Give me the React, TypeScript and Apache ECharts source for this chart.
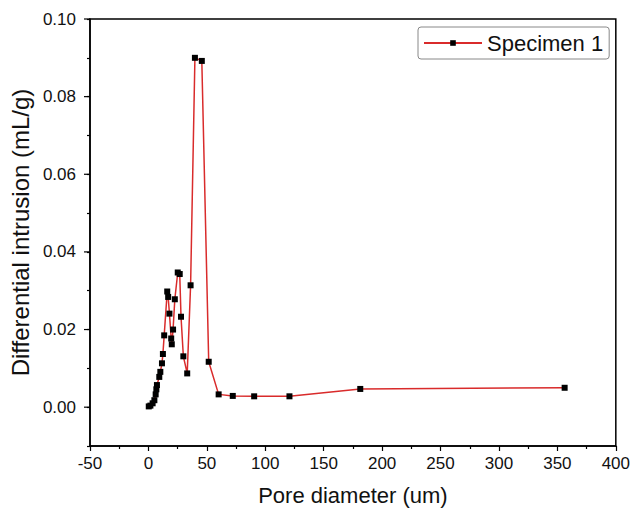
import React, { useEffect, useRef } from "react";
import * as echarts from "echarts";

const poreDiameter = [0.3, 1.7, 3.6, 5.1, 6.2, 6.8, 7.3, 9.3, 10.2, 11.6, 12.4, 13.5, 16.1, 16.9, 18.0, 19.5, 20.0, 21.1, 22.6, 25.1, 26.8, 27.9, 29.9, 33.2, 36.1, 39.8, 45.7, 51.6, 60.1, 72.2, 90.5, 120.7, 181.3, 356.2];
const intrusion = [0.0002, 0.0004, 0.001, 0.0018, 0.0033, 0.0046, 0.0057, 0.0078, 0.0091, 0.0113, 0.0137, 0.0185, 0.0298, 0.0284, 0.0241, 0.0177, 0.0162, 0.02, 0.0278, 0.0347, 0.0343, 0.0233, 0.0131, 0.0087, 0.0314, 0.09, 0.0892, 0.0117, 0.0033, 0.0029, 0.0028, 0.0028, 0.0047, 0.005];
const yMajorTicks = [0, 0.02, 0.04, 0.06, 0.08, 0.1];
const seriesName = "Specimen 1";

export default function App() {
  const ref = useRef<HTMLDivElement>(null);
  useEffect(() => {
    if (!ref.current) return;
    const chart = echarts.init(ref.current, null, { renderer: "svg" });
    const font = "Liberation Sans, Arial, sans-serif";
    chart.setOption({
      animation: false,
      backgroundColor: "#ffffff",
      grid: {
        left: 89,
        right: 12,
        top: 19,
        bottom: 70,
        show: true,
        borderColor: "#000",
        borderWidth: 1.5,
        backgroundColor: "transparent",
      },
      legend: {
        data: [seriesName],
        left: 418,
        top: 27,
        itemWidth: 58,
        itemHeight: 7,
        itemGap: 5,
        padding: [5, 6, 5, 5],
        borderColor: "#888",
        borderWidth: 1,
        borderRadius: 3,
        textStyle: { fontFamily: font, fontSize: 22, color: "#111" },
      },
      xAxis: {
        type: "value",
        min: -50,
        max: 400,
        interval: 50,
        name: "Pore diameter (um)",
        nameLocation: "middle",
        nameGap: 38,
        nameTextStyle: { fontFamily: font, fontSize: 22, color: "#111" },
        axisLine: { show: true, onZero: false, lineStyle: { color: "#000", width: 1.5 } },
        axisTick: { show: true, inside: false, length: 5, lineStyle: { color: "#000", width: 1.2 } },
        minorTick: { show: true, splitNumber: 2, length: 3, lineStyle: { color: "#000", width: 1.2 } },
        axisLabel: { fontFamily: font, fontSize: 17, color: "#111", margin: 9 },
        splitLine: { show: false },
      },
      yAxis: {
        type: "value",
        min: -0.01,
        max: 0.1,
        interval: 0.01,
        name: "Differential intrusion (mL/g)",
        nameLocation: "middle",
        nameGap: 56,
        nameTextStyle: { fontFamily: font, fontSize: 24, color: "#111" },
        axisLine: { show: true, onZero: false, lineStyle: { color: "#000", width: 1.5 } },
        axisTick: { show: true, inside: false, length: 3, lineStyle: { color: "#000", width: 1.2 } },
        axisLabel: {
          fontFamily: font,
          fontSize: 17,
          color: "#111",
          margin: 14,
          formatter: (v: number) => (Math.round(v * 100) % 2 === 0 ? v.toFixed(2) : ""),
        },
        splitLine: { show: false },
      },
      series: [
        {
          name: seriesName,
          type: "line",
          data: poreDiameter.map((x, i) => [x, intrusion[i]]),
          symbol: "rect",
          symbolSize: 6,
          itemStyle: { color: "#000" },
          lineStyle: { color: "#d92b2b", width: 1.5 },
        },
      ],
    });
    const axisX = chart.convertToPixel({ xAxisIndex: 0 }, -50) as number;
    chart.setOption({
      graphic: yMajorTicks.map((v) => {
        const py = chart.convertToPixel({ yAxisIndex: 0 }, v) as number;
        return {
          type: "line",
          shape: { x1: axisX - 6, y1: py, x2: axisX, y2: py },
          style: { stroke: "#000", lineWidth: 1.2 },
          silent: true,
        };
      }),
    });
    return () => chart.dispose();
  }, []);
  return <div ref={ref} style={{ position: "absolute", left: 0, top: 0, width: 633, height: 516 }} />;
}
